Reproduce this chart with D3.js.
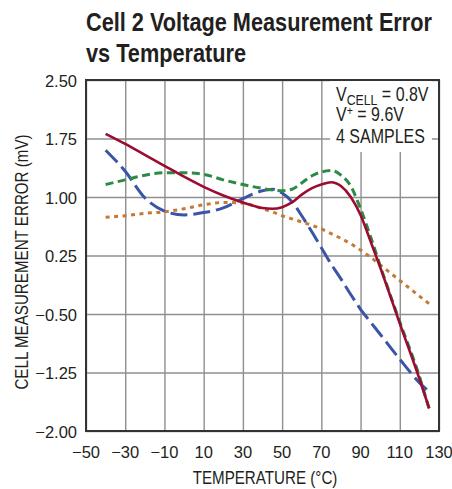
<!DOCTYPE html>
<html>
<head>
<meta charset="utf-8">
<script src="https://cdn.jsdelivr.net/npm/d3@7"></script>
<style>
  html, body { margin: 0; padding: 0; background: #fff; }
  svg { display: block; }
  text { font-family: "Liberation Sans", Arial, sans-serif; }
</style>
</head>
<body>
<svg id="chart" width="452" height="489"></svg>
<script>
// ---- data ----
const titleLines = ["Cell 2 Voltage Measurement Error", "vs Temperature"];
const xTicks = [-50, -30, -10, 10, 30, 50, 70, 90, 110, 130];
const yTicks = [-2.00, -1.25, -0.50, 0.25, 1.00, 1.75, 2.50];
const temps  = [-40, -30, -20, -10, 0, 10, 20, 30, 40, 45, 50, 55, 60, 65, 70, 75, 80, 85, 90, 95, 100, 110, 120, 125];
const sampleRed    = [1.81, 1.68, 1.54, 1.40, 1.26, 1.13, 1.02, 0.93, 0.86, 0.85, 0.87, 0.93, 1.03, 1.11, 1.16, 1.19, 1.14, 1.00, 0.77, 0.44, 0.10, -0.62, -1.33, -1.71];
const sampleGreen  = [1.16, 1.22, 1.28, 1.31, 1.31, 1.29, 1.22, 1.16, 1.11, 1.09, 1.08, 1.10, 1.18, 1.27, 1.32, 1.34, 1.28, 1.14, 0.85, 0.50, 0.12, -0.60, -1.30, -1.72];
const sampleBlue   = [1.60, 1.33, 0.99, 0.82, 0.77, 0.80, 0.86, 0.98, 1.08, 1.10, 1.05, 0.94, 0.76, 0.56, 0.35, 0.14, -0.05, -0.25, -0.44, -0.60, -0.76, -1.08, -1.38, -1.50];
const sampleOrange = [0.74, 0.76, 0.79, 0.81, 0.85, 0.90, 0.93, 0.92, 0.85, 0.81, 0.76, 0.72, 0.68, 0.64, 0.59, 0.53, 0.47, 0.40, 0.32, 0.23, 0.13, -0.07, -0.27, -0.37];
const xLabel = "TEMPERATURE (°C)";
const yLabel = "CELL MEASUREMENT ERROR (mV)";

// ---- layout ----
const svg = d3.select("#chart");
const L = 86, R = 439, T = 80, B = 431;
const NARROW = 0.82;
const ink = "#231f20";
const x = d3.scaleLinear().domain([-50, 130]).range([L, R]);
const y = d3.scaleLinear().domain([-2, 2.5]).range([B, T]);
const fmtY = v => (v < 0 ? "\u2212" : "") + Math.abs(v).toFixed(2);
const fmtX = v => (v < 0 ? "\u2212" : "") + Math.abs(v);

// narrow text helper (condensed look via horizontal scale)
function narrow(parent, px, py, extra = "") {
  return parent.append("text")
    .attr("transform", `translate(${px},${py}) ${extra} scale(${NARROW},1)`)
    .attr("fill", ink);
}

// title
titleLines.forEach((t, i) => {
  narrow(svg, L, 31 + i * 31).attr("font-size", 26.5).attr("font-weight", "bold").text(t);
});

// grid
const grid = svg.append("g");
grid.append("g").attr("transform", `translate(0,${B})`)
  .call(d3.axisBottom(x).tickValues(xTicks).tickSize(-(B - T)).tickFormat(""))
  .call(g => g.select(".domain").remove())
  .call(g => g.selectAll("line").attr("stroke", "#8f8f8f").attr("stroke-width", 1.4));
grid.append("g").attr("transform", `translate(${L},0)`)
  .call(d3.axisLeft(y).tickValues(yTicks).tickSize(-(R - L)).tickFormat(""))
  .call(g => g.select(".domain").remove())
  .call(g => g.selectAll("line").attr("stroke", "#8f8f8f").attr("stroke-width", 1.4));

// legend box (covers grid)
svg.append("rect").attr("x", 330).attr("y", T + 1).attr("width", 102).attr("height", 71).attr("fill", "#fff");

// series
const series = [
  { vals: sampleOrange, color: "#c47a36", dash: "4,4.5", w: 3 },
  { vals: sampleBlue,   color: "#3b55a6", dash: "17,6", w: 3 },
  { vals: sampleGreen,  color: "#2b8a45", dash: "8,4.5", w: 3 },
  { vals: sampleRed,    color: "#9b0c30", dash: null, w: 2.6 }
];
const line = d3.line().x(d => x(d[0])).y(d => y(d[1])).curve(d3.curveMonotoneX);
svg.append("g").selectAll("path").data(series).join("path")
  .attr("d", s => line(temps.map((t, i) => [t, s.vals[i]])))
  .attr("fill", "none").attr("stroke", s => s.color).attr("stroke-width", s => s.w)
  .attr("stroke-dasharray", s => s.dash)
  .attr("stroke-linejoin", "round");

// frame
svg.append("rect").attr("x", L).attr("y", T).attr("width", R - L).attr("height", B - T)
  .attr("fill", "none").attr("stroke", "#333").attr("stroke-width", 2);

// tick labels
svg.append("g").selectAll("text").data(yTicks).join("text")
  .attr("font-size", 16.5).attr("fill", ink)
  .attr("text-anchor", "end").attr("x", L - 9).attr("y", d => y(d) + 6.5)
  .text(fmtY);
svg.append("g").selectAll("text").data(xTicks).join("text")
  .attr("font-size", 16.5).attr("fill", ink)
  .attr("text-anchor", "middle").attr("x", d => x(d)).attr("y", 458)
  .text(fmtX);

// axis titles
narrow(svg, 265, 484).attr("font-size", 18.5).attr("text-anchor", "middle").text(xLabel);
narrow(svg, 28, 262, "rotate(-90)").attr("font-size", 18.5).attr("text-anchor", "middle").text(yLabel);

// legend text
const t1 = narrow(svg, 336, 101).attr("font-size", 19.5);
t1.append("tspan").text("V");
t1.append("tspan").attr("font-size", 15).attr("dy", 4).text("CELL");
t1.append("tspan").attr("dy", -4).text(" = 0.8V");
const t2 = narrow(svg, 336, 121).attr("font-size", 19.5);
t2.append("tspan").text("V");
t2.append("tspan").attr("font-size", 13).attr("dy", -6).text("+");
t2.append("tspan").attr("dy", 6).text(" = 9.6V");
narrow(svg, 336, 143).attr("font-size", 19.5).text("4 SAMPLES");
</script>
</body>
</html>
